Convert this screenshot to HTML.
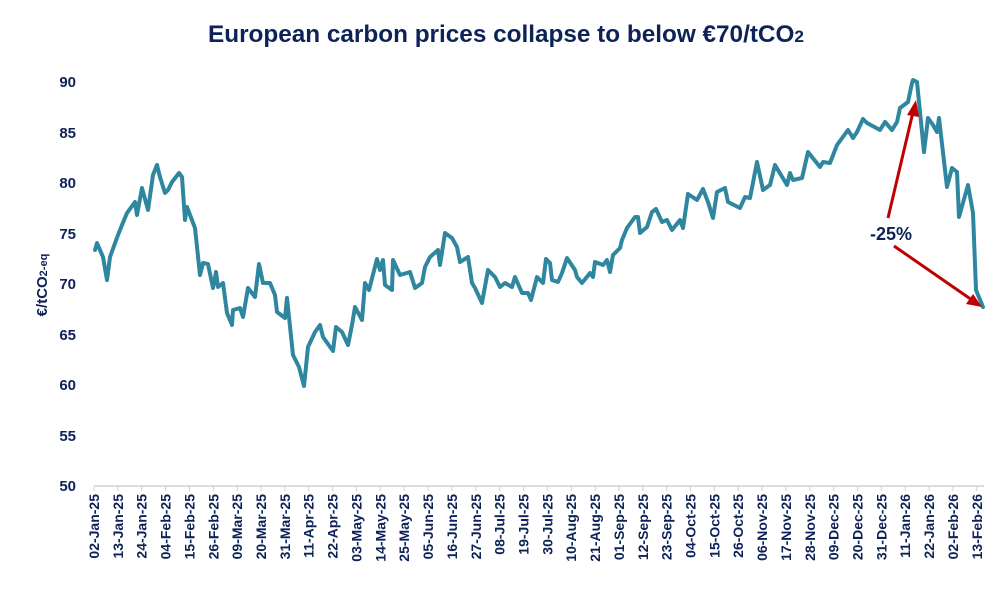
<!DOCTYPE html>
<html><head><meta charset="utf-8"><style>
html,body{margin:0;padding:0;background:#fff;}
svg{display:block;font-family:"Liberation Sans",sans-serif;}
</style></head><body>
<svg width="1006" height="592" viewBox="0 0 1006 592" xmlns="http://www.w3.org/2000/svg">
<text x="208" y="42" font-size="24" font-weight="bold" fill="#0d2257" textLength="596" lengthAdjust="spacingAndGlyphs">European carbon prices collapse to below €70/tCO<tspan font-size="17">2</tspan></text>
<g font-size="15" font-weight="bold" fill="#0d2257" text-anchor="end">
<text x="76" y="87">90</text><text x="76" y="138">85</text><text x="76" y="188">80</text><text x="76" y="239">75</text><text x="76" y="289">70</text><text x="76" y="340">65</text><text x="76" y="390">60</text><text x="76" y="441">55</text><text x="76" y="491">50</text>
</g>
<text transform="translate(47,285) rotate(-90)" text-anchor="middle" font-size="15" font-weight="bold" fill="#0d2257">€/tCO<tspan font-size="11">2-eq</tspan></text>
<line x1="94" y1="486" x2="984" y2="486" stroke="#d0d0d0" stroke-width="1.5"/>
<g stroke="#d0d0d0" stroke-width="1">
<line x1="94" y1="486" x2="94" y2="491"/><line x1="117.9" y1="486" x2="117.9" y2="491"/><line x1="141.7" y1="486" x2="141.7" y2="491"/><line x1="165.6" y1="486" x2="165.6" y2="491"/><line x1="189.4" y1="486" x2="189.4" y2="491"/><line x1="213.3" y1="486" x2="213.3" y2="491"/><line x1="237.2" y1="486" x2="237.2" y2="491"/><line x1="261" y1="486" x2="261" y2="491"/><line x1="284.9" y1="486" x2="284.9" y2="491"/><line x1="308.7" y1="486" x2="308.7" y2="491"/><line x1="332.6" y1="486" x2="332.6" y2="491"/><line x1="356.5" y1="486" x2="356.5" y2="491"/><line x1="380.3" y1="486" x2="380.3" y2="491"/><line x1="404.2" y1="486" x2="404.2" y2="491"/><line x1="428" y1="486" x2="428" y2="491"/><line x1="451.9" y1="486" x2="451.9" y2="491"/><line x1="475.8" y1="486" x2="475.8" y2="491"/><line x1="499.6" y1="486" x2="499.6" y2="491"/><line x1="523.5" y1="486" x2="523.5" y2="491"/><line x1="547.3" y1="486" x2="547.3" y2="491"/><line x1="571.2" y1="486" x2="571.2" y2="491"/><line x1="595.1" y1="486" x2="595.1" y2="491"/><line x1="618.9" y1="486" x2="618.9" y2="491"/><line x1="642.8" y1="486" x2="642.8" y2="491"/><line x1="666.6" y1="486" x2="666.6" y2="491"/><line x1="690.5" y1="486" x2="690.5" y2="491"/><line x1="714.4" y1="486" x2="714.4" y2="491"/><line x1="738.2" y1="486" x2="738.2" y2="491"/><line x1="762.1" y1="486" x2="762.1" y2="491"/><line x1="785.9" y1="486" x2="785.9" y2="491"/><line x1="809.8" y1="486" x2="809.8" y2="491"/><line x1="833.7" y1="486" x2="833.7" y2="491"/><line x1="857.5" y1="486" x2="857.5" y2="491"/><line x1="881.4" y1="486" x2="881.4" y2="491"/><line x1="905.2" y1="486" x2="905.2" y2="491"/><line x1="929.1" y1="486" x2="929.1" y2="491"/><line x1="953" y1="486" x2="953" y2="491"/><line x1="976.8" y1="486" x2="976.8" y2="491"/>
</g>
<g font-size="14" font-weight="bold" fill="#0d2257" text-anchor="end">
<text transform="translate(99,494) rotate(-90)">02-Jan-25</text>
<text transform="translate(122.9,494) rotate(-90)">13-Jan-25</text>
<text transform="translate(146.7,494) rotate(-90)">24-Jan-25</text>
<text transform="translate(170.6,494) rotate(-90)">04-Feb-25</text>
<text transform="translate(194.4,494) rotate(-90)">15-Feb-25</text>
<text transform="translate(218.3,494) rotate(-90)">26-Feb-25</text>
<text transform="translate(242.2,494) rotate(-90)">09-Mar-25</text>
<text transform="translate(266,494) rotate(-90)">20-Mar-25</text>
<text transform="translate(289.9,494) rotate(-90)">31-Mar-25</text>
<text transform="translate(313.7,494) rotate(-90)">11-Apr-25</text>
<text transform="translate(337.6,494) rotate(-90)">22-Apr-25</text>
<text transform="translate(361.5,494) rotate(-90)">03-May-25</text>
<text transform="translate(385.3,494) rotate(-90)">14-May-25</text>
<text transform="translate(409.2,494) rotate(-90)">25-May-25</text>
<text transform="translate(433,494) rotate(-90)">05-Jun-25</text>
<text transform="translate(456.9,494) rotate(-90)">16-Jun-25</text>
<text transform="translate(480.8,494) rotate(-90)">27-Jun-25</text>
<text transform="translate(504.6,494) rotate(-90)">08-Jul-25</text>
<text transform="translate(528.5,494) rotate(-90)">19-Jul-25</text>
<text transform="translate(552.3,494) rotate(-90)">30-Jul-25</text>
<text transform="translate(576.2,494) rotate(-90)">10-Aug-25</text>
<text transform="translate(600.1,494) rotate(-90)">21-Aug-25</text>
<text transform="translate(623.9,494) rotate(-90)">01-Sep-25</text>
<text transform="translate(647.8,494) rotate(-90)">12-Sep-25</text>
<text transform="translate(671.6,494) rotate(-90)">23-Sep-25</text>
<text transform="translate(695.5,494) rotate(-90)">04-Oct-25</text>
<text transform="translate(719.4,494) rotate(-90)">15-Oct-25</text>
<text transform="translate(743.2,494) rotate(-90)">26-Oct-25</text>
<text transform="translate(767.1,494) rotate(-90)">06-Nov-25</text>
<text transform="translate(790.9,494) rotate(-90)">17-Nov-25</text>
<text transform="translate(814.8,494) rotate(-90)">28-Nov-25</text>
<text transform="translate(838.7,494) rotate(-90)">09-Dec-25</text>
<text transform="translate(862.5,494) rotate(-90)">20-Dec-25</text>
<text transform="translate(886.4,494) rotate(-90)">31-Dec-25</text>
<text transform="translate(910.2,494) rotate(-90)">11-Jan-26</text>
<text transform="translate(934.1,494) rotate(-90)">22-Jan-26</text>
<text transform="translate(958,494) rotate(-90)">02-Feb-26</text>
<text transform="translate(981.8,494) rotate(-90)">13-Feb-26</text>
</g>
<polyline fill="none" stroke="#2f869f" stroke-width="4" stroke-linejoin="round" stroke-linecap="round" points="
95,250 97,243 103,257 107,280 110,257 118,235 122,225 127,213 135,202 137,215 142,188 148,210 153,175 157,165 160,177 165,193 168,190 172,182 179,173 182,177 185,220 187,207 195,228 200,275 203,263 208,264 213,288 216,272 218,287 223,283 227,313 232,325 233,310 240,308 243,317 248,288 255,297 259,264 263,283 270,283 275,295 277,312 285,318 287,298 293,355 299,367 304,386 308,347 315,332 320,325 323,337 333,351 336,327 342,332 348,345 352,325 355,307 362,320 365,283 369,290 377,259 380,270 383,260 385,285 392,290 393,260 400,275 410,272 415,288 422,283 425,267 430,257 438,250 440,265 445,233 452,238 457,247 460,262 468,257 472,283 475,288 482,303 488,270 495,277 500,287 505,283 512,287 515,277 522,293 528,293 531,300 537,277 543,283 546,259 550,263 552,280 558,282 562,273 567,258 575,270 577,277 582,283 590,273 593,277 595,262 603,265 607,260 610,272 613,255 620,248 622,240 627,228 635,217 638,217 640,233 647,227 652,212 656,209 662,222 667,220 672,230 680,220 683,228 688,194 697,200 703,189 708,202 713,218 717,192 725,188 728,202 740,208 745,197 750,198 757,162 763,190 770,185 775,165 787,185 790,173 793,180 802,178 808,152 820,167 823,162 830,163 837,145 848,130 853,138 857,132 863,119 867,123 880,130 885,122 892,130 897,122 900,108 908,102 912,83 913,80 917,82 924,152 928,118 933,125 937,132 939,118 947,187 952,168 957,172 959,217 968,185 973,213 976,290 983,307"/>
<g stroke="#c00000" stroke-width="3" fill="#c00000">
<line x1="888" y1="218" x2="913" y2="112"/>
<polygon points="916,100 907,115 919,117" stroke="none"/>
<line x1="894" y1="246" x2="972" y2="300"/>
<polygon points="982,307 966,304 973,294" stroke="none"/>
</g>
<text x="891" y="240" text-anchor="middle" font-size="18" font-weight="bold" fill="#0d2257">-25%</text>
</svg>
</body></html>
